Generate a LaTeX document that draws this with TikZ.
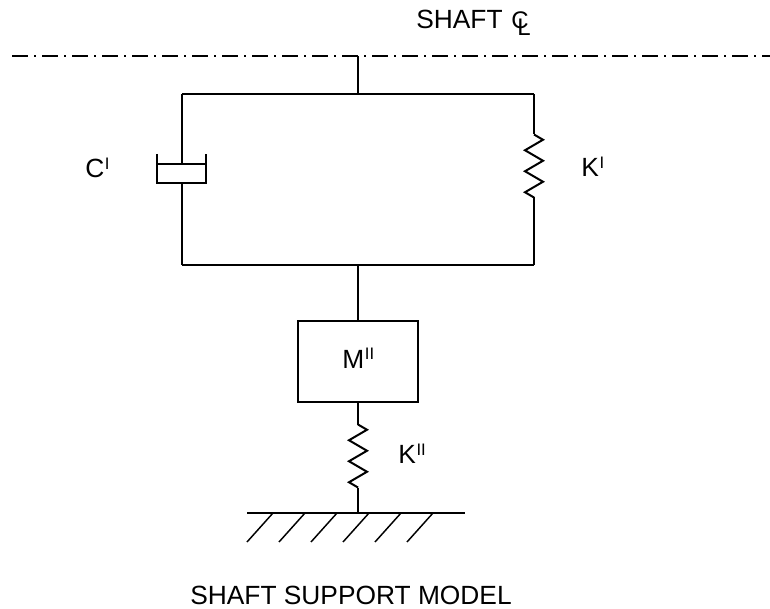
\documentclass[tikz,border=0pt]{standalone}
\usepackage{fontspec}
\setmainfont{Liberation Sans}
\usetikzlibrary{positioning,calc}
\usetikzlibrary{decorations.pathmorphing}
\tikzset{
  wire/.style={draw=black,line width=1.5pt},
  spring/.style={wire,decorate,decoration={zigzag,segment length=15.75pt,amplitude=6.75pt}},
  mass/.style={draw=black,line width=1.5pt,minimum width=90pt,minimum height=60.75pt,inner sep=0pt},
  centerline/.style={draw=black,line width=1.5pt,dash pattern=on 12pt off 4.5pt on 1.5pt off 4.5pt},
  hatch/.style={draw=black,line width=1.1pt},
  lbl/.style={inner sep=0pt,anchor=base west,font=\fontsize{19.75}{22}\selectfont},
  smalllbl/.style={inner sep=0pt,anchor=base,font=\fontsize{18}{20}\selectfont},
}
\newcommand{\supmark}[1]{\kern0.5pt\raisebox{6pt}{\fontsize{12.5}{14}\selectfont #1}}
\begin{document}
\begin{tikzpicture}[x=0.75pt,y=-0.75pt]
\useasboundingbox (0,0) rectangle (770,609);
% shaft centre line
\coordinate (cl1) at (12,56);
\coordinate (cl2) at (770,56);
\coordinate (cl3) at (358,56);
\draw[centerline] (cl1)--(cl2);
% frame
\coordinate (t0) at (358,94);
\coordinate (t1) at (182,94);
\coordinate (t2) at (534,94);
\coordinate (b0) at (358,265);
\coordinate (b1) at (182,265);
\coordinate (b2) at (534,265);
\draw[wire] (cl3)--(t0);
\draw[wire] (t1)--(t2);
\draw[wire] (b1)--(b2);
% damper
\coordinate (d1) at (182,164);
\coordinate (d2) at (182,183);
\coordinate (dl1) at (157,154);
\coordinate (dl2) at (157,183);
\coordinate (dr1) at (206,154);
\coordinate (dr2) at (206,183);
\coordinate (pl) at (157,164);
\coordinate (pr) at (206,164);
\draw[wire] (t1)--(d1);
\draw[wire] (d2)--(b1);
\draw[wire] (pl)--(pr);
\draw[wire] (dl1)--(dl2)--(dr2)--(dr1);
% upper spring
\coordinate (s1) at (534,134.5);
\coordinate (s2) at (534,197.5);
\draw[wire] (t2)--(s1);
\draw[spring] (s1)--(s2);
\draw[wire] (s2)--(b2);
% mass and lower spring
\node[mass] (m) at (358,361.5) {};
\node[lbl] (mlab) at (342,368) {M\supmark{II}};
\coordinate (s3) at (358,424.5);
\coordinate (s4) at (358,487.5);
\coordinate (g0) at (358,513);
\coordinate (g1) at (247,513);
\coordinate (g2) at (465,513);
\draw[wire] (b0)--(m);
\draw[wire] (m)--(s3);
\draw[spring] (s3)--(s4);
\draw[wire] (s4)--(g0);
\draw[wire] (g1)--(g2);
% ground hatching
\foreach \i in {0,...,5}{
  \coordinate (h\i) at ({273+32*\i},513);
  \draw[hatch] (h\i)--++(-26,29);
}
% labels
\node[lbl] (clab) at (85,177.5) {C\supmark{I}};
\node[lbl] (klab) at (581,177) {K\supmark{I}};
\node[lbl] (k2lab) at (398,463) {K\supmark{II}};
\node[lbl] (shaft) at (416,28.5) {SHAFT};
\node[smalllbl] (cc) at (520,28.5) {C};
\node[smalllbl] (cL) at (524,36) {L};
\node[lbl,anchor=base] (title) at (351,604) {SHAFT SUPPORT MODEL};
\end{tikzpicture}
\end{document}
